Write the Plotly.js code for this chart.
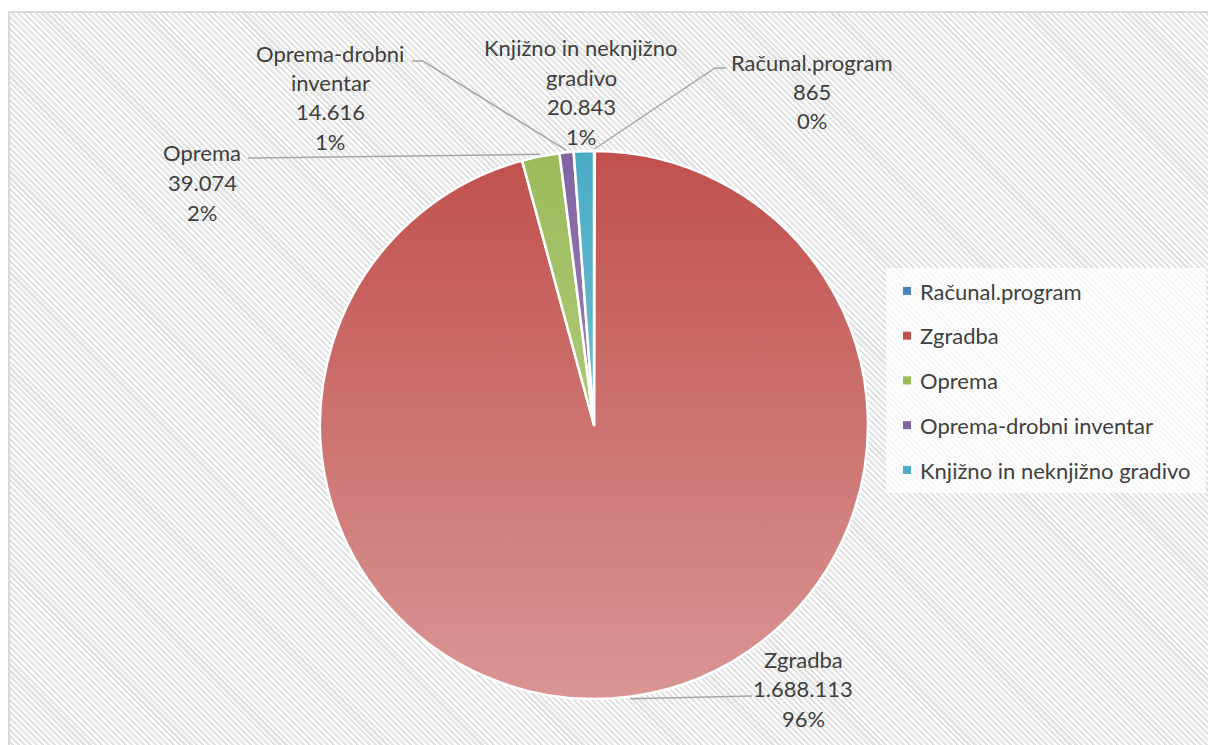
<!DOCTYPE html>
<html>
<head>
<meta charset="utf-8">
<script src="https://cdn.plot.ly/plotly-3.0.1.min.js"></script>
<style>
  html, body { margin: 0; padding: 0; background: #ffffff; overflow: hidden; }
  #bg {
    position: absolute; left: 8px; top: 11px; width: 1210px; height: 745px;
    border-left: 2px solid #d9d9d9; border-top: 2px solid #d9d9d9;
    background: repeating-linear-gradient(45deg, #ffffff 0px, #ffffff 2px, #e2e2e2 2px, #e2e2e2 4.2px);
  }
  #chart { position: absolute; left: 0; top: 0; width: 1208px; height: 745px; }
</style>
</head>
<body>
<div id="bg"></div>
<div id="chart"></div>
<script>
// ---------------- data ----------------
const categories = ["Računal.program", "Zgradba", "Oprema", "Oprema-drobni inventar", "Knjižno in neknjižno gradivo"];
const values = [865, 1688113, 39074, 14616, 20843];
const labelLines = [["Računal.program"], ["Zgradba"], ["Oprema"], ["Oprema-drobni", "inventar"], ["Knjižno in neknjižno", "gradivo"]];
const sliceColors = ["#4f81bd", "#c0504d", "#9bbb59", "#8064a2", "#4bacc6"];

// ---------------- layout constants ----------------
const W = 1208, H = 745;
const CX = 594, CY = 425, R = 274;
const FONT = "Lato, 'Open Sans', sans-serif";
const FS = 22;
const TXT = "#404040";
const LINE_DY = 29.5;
// data label placement (center x, first line y) in px
const labelPos = [[812, 62], [803, 659], [202, 153], [330, 53], [581, 48]];
// leader line points from the label side (px); null = no leader
const leaderFrom = [[[726, 68], [715, 68]], [[752, 696]], [[248, 158]], [[412, 61], [423, 61]], null];
const LEG_X_TEXT = 920, LEG_Y0 = 291, LEG_DY = 44.75;

const px = x => x / W;
const py = y => 1 - y / H;
const fmt = v => String(v).replace(/\B(?=(\d{3})+(?!\d))/g, ".");
const total = values.reduce((a, b) => a + b, 0);

function lighten(hex, f) {
  const n = parseInt(hex.slice(1), 16);
  const r = (n >> 16) & 255, g = (n >> 8) & 255, b = n & 255;
  const m = c => Math.round(c + (255 - c) * f);
  return `rgb(${m(r)},${m(g)},${m(b)})`;
}

// ---------------- annotations (data labels) ----------------
const annotations = [];
const shapes = [];
let cum = 0;
values.forEach((v, i) => {
  const lines = labelLines[i].concat([fmt(v), Math.round(v / total * 100) + "%"]);
  lines.forEach((t, k) => {
    annotations.push({
      x: px(labelPos[i][0]), y: py(labelPos[i][1] + k * LINE_DY),
      xref: "paper", yref: "paper", xanchor: "center", yanchor: "middle",
      text: t, showarrow: false, font: { family: FONT, size: FS, color: TXT }
    });
  });
  const mid = (cum + v / 2) / total;
  cum += v;
  if (leaderFrom[i]) {
    const ang = mid * 2 * Math.PI;
    const ex = CX + (R + 2) * Math.sin(ang), ey = CY - (R + 2) * Math.cos(ang);
    const pts = leaderFrom[i].concat([[ex, ey]]);
    const path = pts.map((p, k) => (k ? "L" : "M") + px(p[0]) + "," + py(p[1])).join(" ");
    shapes.push({ type: "path", xref: "paper", yref: "paper", path: path,
      line: { color: "#a6a6a6", width: 1.5 }, layer: "above" });
  }
});

// legend backdrop
shapes.push({ type: "rect", xref: "paper", yref: "paper", x0: px(886), x1: px(1206), y0: py(268), y1: py(493),
  fillcolor: "rgba(255,255,255,0.75)", line: { width: 0 }, layer: "below" });

const data = [{
  type: "pie",
  labels: categories,
  values: values,
  sort: false,
  direction: "clockwise",
  rotation: 0,
  textinfo: "none",
  hoverinfo: "label+value+percent",
  marker: { colors: sliceColors, line: { color: "#ffffff", width: 2.5 } },
  domain: { x: [px(CX - R), px(CX + R)], y: [py(CY + R), py(CY - R)] }
}];

const layout = {
  width: W, height: H,
  margin: { l: 0, r: 0, t: 0, b: 0 },
  paper_bgcolor: "rgba(0,0,0,0)",
  plot_bgcolor: "rgba(0,0,0,0)",
  showlegend: true,
  legend: {
    x: px(880), y: py(270), xanchor: "left", yanchor: "top",
    bgcolor: "rgba(0,0,0,0)", borderwidth: 0,
    font: { family: FONT, size: FS, color: TXT }
  },
  annotations: annotations,
  shapes: shapes
};

const gd = document.getElementById("chart");
Plotly.newPlot(gd, data, layout, { displayModeBar: false, staticPlot: true }).then(fixup);

function fixup() {
  // gradient fills on slices
  const svg = gd.querySelector("svg.main-svg");
  let defs = svg.querySelector("defs");
  if (!defs) { defs = document.createElementNS("http://www.w3.org/2000/svg", "defs"); svg.insertBefore(defs, svg.firstChild); }
  const slices = gd.querySelectorAll(".pielayer g.slice path.surface");
  let y0 = 0, y1 = 1;
  if (slices[1]) { const bb = slices[1].getBBox(); y0 = bb.y; y1 = bb.y + bb.height; }
  slices.forEach((p, i) => {
    const id = "slgrad" + i;
    const lg = document.createElementNS("http://www.w3.org/2000/svg", "linearGradient");
    lg.setAttribute("id", id);
    lg.setAttribute("gradientUnits", "userSpaceOnUse");
    lg.setAttribute("x1", 0); lg.setAttribute("x2", 0);
    lg.setAttribute("y1", y0); lg.setAttribute("y2", y1);
    const s1 = document.createElementNS("http://www.w3.org/2000/svg", "stop");
    s1.setAttribute("offset", "0"); s1.setAttribute("stop-color", sliceColors[i]);
    const s2 = document.createElementNS("http://www.w3.org/2000/svg", "stop");
    s2.setAttribute("offset", "1"); s2.setAttribute("stop-color", lighten(sliceColors[i], 0.4));
    lg.appendChild(s1); lg.appendChild(s2);
    defs.appendChild(lg);
    p.style.fill = "url(#" + id + ")";
  });

  // legend spacing and symbol size
  const leg = gd.querySelector(".legend");
  if (!leg) return;
  leg.querySelectorAll("[clip-path]").forEach(e => e.removeAttribute("clip-path"));
  const items = leg.querySelectorAll("g.traces");
  items.forEach((it, i) => {
    const t = it.querySelector("text.legendtext");
    const sym = it.querySelector("path.legendpie");
    const tx = parseFloat(t.getAttribute("x")) || 40;
    if (sym) {
      sym.setAttribute("transform", `translate(${tx - 13},0) scale(0.67)`);
      sym.style.strokeWidth = "0";
    }
    const r = t.getBoundingClientRect();
    const cy = r.top + r.height / 2;
    const target = LEG_Y0 + i * LEG_DY;
    const m = /translate\(\s*([-\d.e]+)[ ,]+([-\d.e]+)\s*\)/.exec(it.getAttribute("transform") || "translate(0,0)");
    const x = m ? parseFloat(m[1]) : 0, y = m ? parseFloat(m[2]) : 0;
    it.setAttribute("transform", `translate(${x + (LEG_X_TEXT - r.left)},${y + (target - cy)})`);
  });
}
</script>
</body>
</html>
